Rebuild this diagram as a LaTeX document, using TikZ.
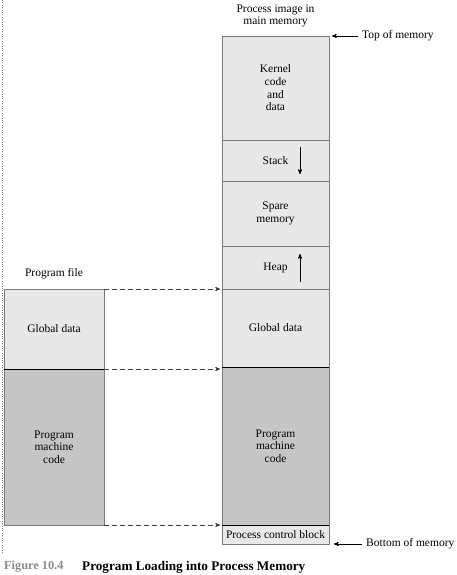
\documentclass[tikz,border=0pt]{standalone}
\usepackage{fontspec}
\setmainfont{Liberation Serif}
\usetikzlibrary{arrows, positioning}

\definecolor{litemem}{HTML}{E8E8E8}
\definecolor{darkmem}{HTML}{C6C6C6}
\definecolor{rimgray}{HTML}{7A7A7A}
\definecolor{capgray}{HTML}{8A8A8A}

\begin{document}
\begin{tikzpicture}[x=1pt, y=-1pt, >=stealth',
  seg/.style={draw=rimgray, line width=0.9pt, rectangle, anchor=north west, inner sep=0pt, outer sep=0pt, minimum width=107pt, align=center, font=\fontsize{11.5}{12.7}\selectfont},
  litebox/.style={seg, fill=litemem},
  darkbox/.style={seg, fill=darkmem},
  lbl/.style={font=\fontsize{11.5}{12.7}\selectfont, align=center, inner sep=0pt},
  loadarrow/.style={dashed, dash pattern=on 5pt off 3pt, draw=black!75, line width=0.7pt, ->, shorten >=2pt}]

\useasboundingbox (0,0) rectangle (457,575);

\draw[dotted, gray] (2,0) -- (2,553);

% process image in main memory
\node[litebox, minimum height=104pt] (kern) at (222,36) {Kernel\\code\\and\\data};
\node[litebox, minimum height=41pt] (stack) at (222,140) {Stack};
\node[litebox, minimum height=65pt] (spare) at (222,181) {Spare\\memory};
\node[litebox, minimum height=43pt] (heap) at (222,246) {Heap};
\node[litebox, minimum height=78pt] (gdata) at (222,289) {Global data};
\node[darkbox, minimum height=158pt] (pcode) at (222,367) {Program\\machine\\code};
\node[litebox, minimum height=19pt] (pcb) at (222,525) {Process control block};

\draw[black, line width=1pt] (gdata.south west) -- (gdata.south east);
\draw[black, line width=1pt] (pcode.south west) -- (pcode.south east);

\draw[->, line width=0.7pt] ([xshift=24.5pt, yshift=13.5pt]stack.center) -- ([xshift=24.5pt, yshift=-13.5pt]stack.center);
\draw[->, line width=0.7pt] ([xshift=24.5pt, yshift=-14.5pt]heap.center) -- ([xshift=24.5pt, yshift=13.5pt]heap.center);

\node[lbl] (ptitle) at (275.5,16) {Process image in\\main memory};

\node[lbl, anchor=west] (topm) at (362,36) {Top of memory};
\draw[->, line width=0.7pt, shorten <=4pt, shorten >=3pt] (topm.west) -- (kern.north east);
\node[lbl, anchor=west] (botm) at (366,544) {Bottom of memory};
\draw[->, line width=0.7pt, shorten <=4pt, shorten >=5pt] (botm.west) -- (pcb.south east);

% program file
\node[lbl] (ftitle) at (54,274) {Program file};
\node[litebox, minimum width=100pt, minimum height=80pt] (fdata) at (4,289) {Global data};
\node[darkbox, minimum width=100pt, minimum height=156pt] (fcode) at (4,369) {Program\\machine\\code};
\draw[black, line width=1pt] (fdata.south west) -- (fdata.south east);

\draw[loadarrow] (fdata.north east) -- (gdata.north west);
\draw[loadarrow] (fcode.north east) -- (fcode.north east -| pcode.west);
\draw[loadarrow] (fcode.south east) -- (pcode.south west);

% caption
\node[anchor=west, inner sep=0pt, font=\fontsize{12.3}{14}\selectfont\bfseries, text=capgray] (fignum) at (4,567) {Figure 10.4};
\node[anchor=west, inner sep=0pt, font=\fontsize{13.2}{15}\selectfont\bfseries] (figtext) at (82,567) {Program Loading into Process Memory};

\end{tikzpicture}
\end{document}
